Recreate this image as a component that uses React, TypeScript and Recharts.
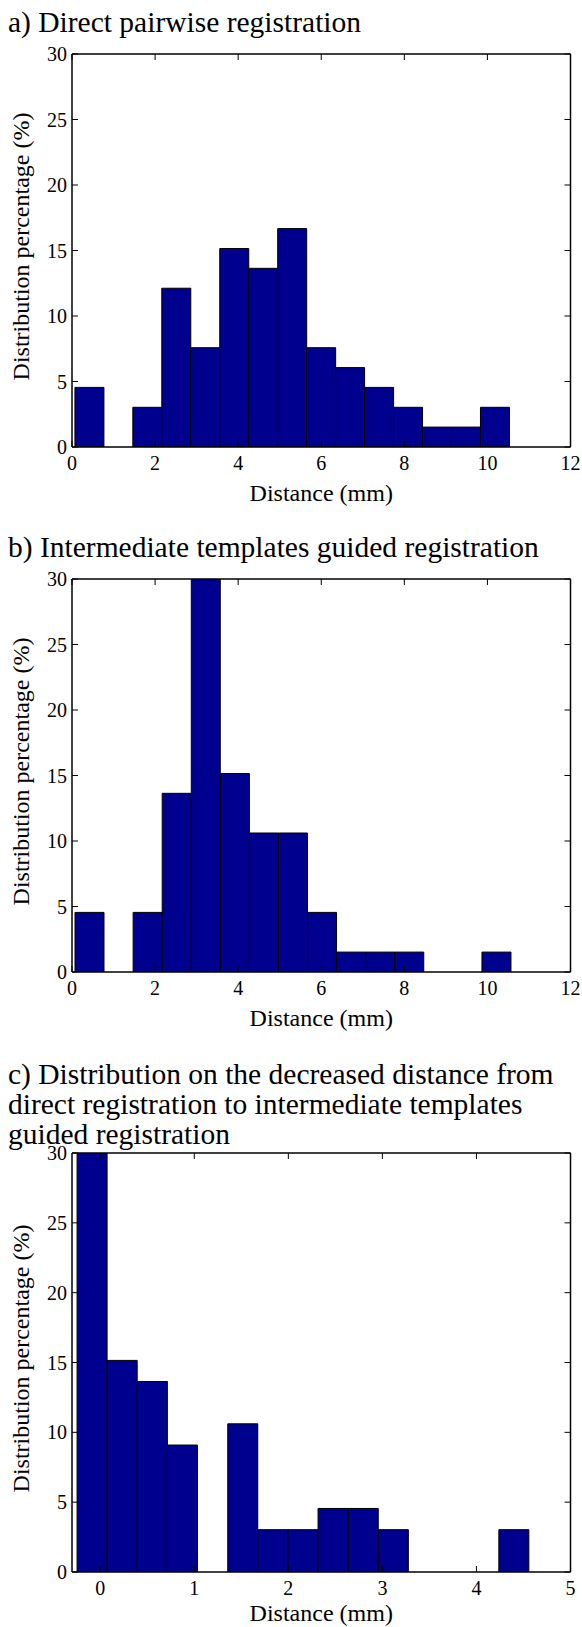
import React from 'react';
import { ComposedChart, Bar, XAxis, YAxis } from 'recharts';

const FONT = '"Liberation Serif", "Times New Roman", Times, serif';
const NAVY = '#00008F';

// Tick labels
const yTicks = [0, 5, 10, 15, 20, 25, 30];
const xTicksAB = [0, 2, 4, 6, 8, 10, 12];
const xTicksC = [0, 1, 2, 3, 4, 5];

// a) Direct pairwise registration: bin centres (mm) and percentages
const binCentersA = [0.419, 1.116, 1.813, 2.51, 3.208, 3.905, 4.602, 5.3, 5.997, 6.694, 7.392, 8.089, 8.786, 9.484, 10.181];
const percentA = [4.55, 0, 3.03, 12.12, 7.58, 15.15, 13.64, 16.67, 7.58, 6.06, 4.55, 3.03, 1.52, 1.52, 3.03];

// b) Intermediate templates guided registration
const binCentersB = [0.422, 1.122, 1.821, 2.521, 3.221, 3.921, 4.62, 5.32, 6.02, 6.72, 7.419, 8.119, 8.819, 9.519, 10.218];
const percentB = [4.55, 0, 4.55, 13.64, 30.3, 15.15, 10.61, 10.61, 4.55, 1.52, 1.52, 1.52, 0, 0, 1.52];

// c) Decreased distance
const binCentersC = [-0.086, 0.234, 0.555, 0.875, 1.195, 1.516, 1.836, 2.156, 2.476, 2.797, 3.117, 3.437, 3.758, 4.078, 4.398];
const percentC = [30.3, 15.15, 13.64, 9.09, 0, 10.61, 3.03, 3.03, 4.55, 4.55, 3.03, 0, 0, 0, 3.03];

const titleA = ['a) Direct pairwise registration'];
const titleB = ['b) Intermediate templates guided registration'];
const titleC = [
  'c) Distribution on the decreased distance from',
  'direct registration to intermediate templates',
  'guided registration',
];
const xLabel = 'Distance (mm)';
const yLabel = 'Distribution percentage (%)';

const TICK_LEN = 6;
const TICK_FS = 20;
const textStyle = { fontFamily: FONT };

const BottomTick = (p: any) => (
  <g>
    <line x1={p.x} x2={p.x} y1={p.y} y2={p.y - TICK_LEN} stroke="#000" strokeWidth={1} />
    <text x={p.x} y={p.y + 23} textAnchor="middle" fontSize={TICK_FS} style={textStyle} fill="#000">
      {p.payload.value}
    </text>
  </g>
);
const TopTick = (p: any) => (
  <line x1={p.x} x2={p.x} y1={p.y} y2={p.y + TICK_LEN} stroke="#000" strokeWidth={1} />
);
const LeftTick = (p: any) => (
  <g>
    <line x1={p.x} x2={p.x + TICK_LEN} y1={p.y} y2={p.y} stroke="#000" strokeWidth={1} />
    <text x={p.x - 5} y={p.y + 7} textAnchor="end" fontSize={TICK_FS} style={textStyle} fill="#000">
      {p.payload.value}
    </text>
  </g>
);
const RightTick = (p: any) => (
  <line x1={p.x} x2={p.x - TICK_LEN} y1={p.y} y2={p.y} stroke="#000" strokeWidth={1} />
);

const makeXLabel = (offset: number) => (p: any) => {
  const vb = p.viewBox || {};
  return (
    <text x={vb.x + vb.width / 2} y={vb.y + offset} textAnchor="middle" fontSize={24} style={textStyle} fill="#000">
      {xLabel}
    </text>
  );
};
const YLabelContent = (p: any) => {
  const vb = p.viewBox || {};
  const cx = vb.x - 11;
  const cy = vb.y + vb.height / 2 - 4;
  return (
    <text
      x={cx}
      y={cy}
      transform={`rotate(-90 ${cx} ${cy})`}
      textAnchor="middle"
      dominantBaseline="central"
      fontSize={24}
      style={textStyle}
      fill="#000"
    >
      {yLabel}
    </text>
  );
};

const axisLine = { stroke: '#000', strokeWidth: 1.5 };

function Hist(props: {
  centers: number[];
  values: number[];
  xDomain: [number, number];
  xTicks: number[];
  top: number;
  height: number;
  plotTop: number;
  plotBottom: number;
  labelOffset: number;
}) {
  const { centers, values, xDomain, xTicks, top, height, plotTop, plotBottom, labelOffset } = props;
  const data = centers.map((c, i) => ({ x: c, v: values[i] }));
  const W = 582;
  const yAxisW = 40;
  const rightW = 1;
  const topH = 1;
  const bottomH = 50;
  const plotLeft = 72;
  const plotRight = 570.5;
  const margin = {
    left: plotLeft - yAxisW,
    right: W - plotRight - rightW,
    top: plotTop - top - topH,
    bottom: top + height - plotBottom - bottomH,
  };
  const XL = makeXLabel(labelOffset);
  return (
    <div style={{ position: 'absolute', left: 0, top, width: W, height }}>
      <ComposedChart width={W} height={height} data={data} margin={margin} barCategoryGap={0} barGap={0}>
        <XAxis
          xAxisId="b"
          dataKey="x"
          type="number"
          domain={xDomain}
          ticks={xTicks}
          interval={0}
          allowDataOverflow
          orientation="bottom"
          height={bottomH}
          tickLine={false}
          tickSize={0}
          tickMargin={0}
          axisLine={axisLine}
          tick={<BottomTick />}
          label={<XL />}
        />
        <XAxis
          xAxisId="t"
          dataKey="x"
          type="number"
          domain={xDomain}
          ticks={xTicks}
          interval={0}
          allowDataOverflow
          orientation="top"
          height={topH}
          tickLine={false}
          tickSize={0}
          tickMargin={0}
          axisLine={axisLine}
          tick={<TopTick />}
        />
        <YAxis
          yAxisId="l"
          type="number"
          domain={[0, 30]}
          ticks={yTicks}
          interval={0}
          allowDataOverflow
          orientation="left"
          width={yAxisW}
          tickLine={false}
          tickSize={0}
          tickMargin={0}
          axisLine={axisLine}
          tick={<LeftTick />}
          label={<YLabelContent />}
        />
        <YAxis
          yAxisId="r"
          type="number"
          domain={[0, 30]}
          ticks={yTicks}
          interval={0}
          allowDataOverflow
          orientation="right"
          width={rightW}
          tickLine={false}
          tickSize={0}
          tickMargin={0}
          axisLine={axisLine}
          tick={<RightTick />}
        />
        <Bar
          xAxisId="b"
          yAxisId="l"
          dataKey="v"
          fill={NAVY}
          stroke="#000"
          strokeWidth={1}
          isAnimationActive={false}
        />
      </ComposedChart>
    </div>
  );
}

const TITLE_FS = 29.5;

export default function App() {
  return (
    <div style={{ position: 'absolute', left: 0, top: 0, width: 582, height: 1627, background: '#fff' }}>
      <svg width={582} height={1627} style={{ position: 'absolute', left: 0, top: 0 }}>
        {titleA.map((t, i) => (
          <text key={'a' + i} x={8} y={32} fontSize={TITLE_FS} style={textStyle} fill="#000">{t}</text>
        ))}
        {titleB.map((t, i) => (
          <text key={'b' + i} x={8} y={557} fontSize={TITLE_FS} style={textStyle} fill="#000">{t}</text>
        ))}
        {titleC.map((t, i) => (
          <text key={'c' + i} x={8} y={1084 + i * 30} fontSize={TITLE_FS} style={textStyle} fill="#000">{t}</text>
        ))}
      </svg>
      <Hist centers={binCentersA} values={percentA} xDomain={[0, 12]} xTicks={xTicksAB} top={40} height={480} plotTop={54} plotBottom={447} labelOffset={54} />
      <Hist centers={binCentersB} values={percentB} xDomain={[0, 12]} xTicks={xTicksAB} top={565} height={480} plotTop={579} plotBottom={972} labelOffset={54} />
      <Hist centers={binCentersC} values={percentC} xDomain={[-0.3, 5]} xTicks={xTicksC} top={1139} height={488} plotTop={1153} plotBottom={1572} labelOffset={49} />
    </div>
  );
}
